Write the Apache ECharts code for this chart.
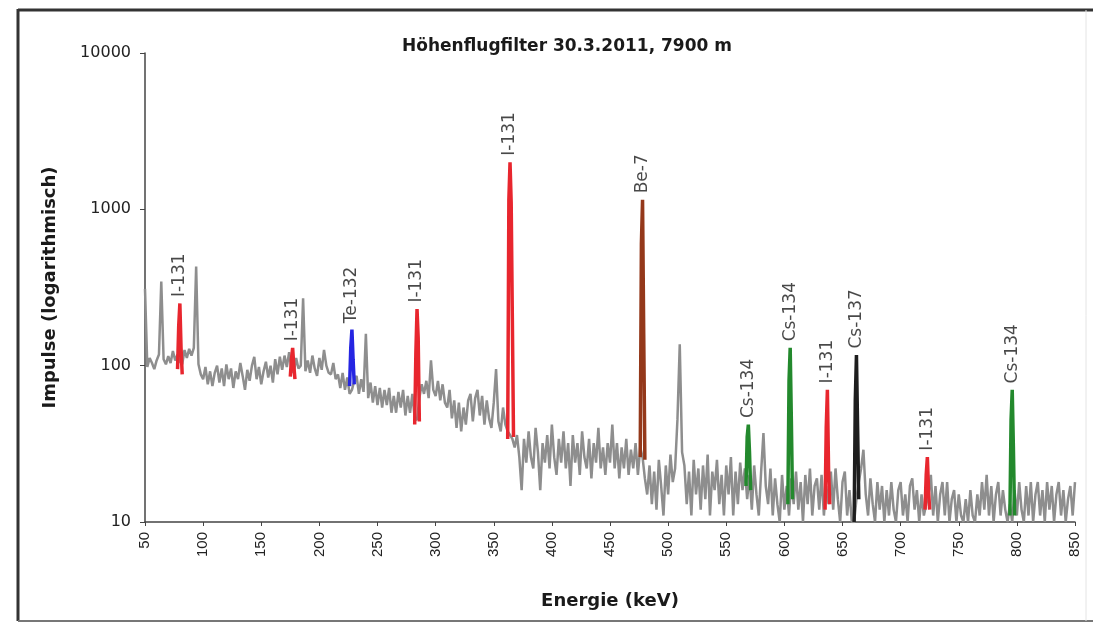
<!DOCTYPE html>
<html lang="de">
  <head>
    <meta charset="UTF-8" />
    <title>Höhenflugfilter 30.3.2011</title>
    <script src="https://cdn.jsdelivr.net/npm/echarts@6.0.0/dist/echarts.min.js"></script>
  </head>
  <body style="margin: 0">
    <div id="chart" style="width: 1093px; height: 623px"></div>
    <script>
      // Untergrund-Spektrum: Zählrate alle 2 keV ab 50 keV
      var energyStart = 50
      var energyStep = 2
      var background = [
        310, 98, 112, 104, 95, 108, 118, 345, 110, 102,
        115, 104, 124, 108, 118, 106, 102, 126, 112, 128,
        116, 130, 430, 102, 88, 82, 98, 76, 92, 74,
        90, 100, 78, 96, 74, 102, 82, 96, 72, 92,
        82, 104, 86, 70, 94, 80, 100, 114, 82, 98,
        76, 92, 106, 84, 100, 78, 110, 88, 114, 94,
        116, 98, 122, 94, 90, 112, 96, 100, 270, 92,
        108, 90, 116, 96, 86, 112, 94, 126, 100, 90,
        88, 104, 82, 88, 72, 90, 70, 84, 66, 70,
        80, 86, 66, 82, 68, 160, 62, 78, 58, 74,
        56, 72, 54, 70, 56, 72, 50, 64, 50, 68,
        54, 70, 48, 64, 50, 66, 46, 45, 62, 76,
        66, 80, 62, 108, 70, 64, 80, 60, 76, 58,
        54, 70, 46, 60, 40, 58, 38, 54, 42, 60,
        66, 44, 62, 70, 48, 64, 42, 60, 46, 40,
        58, 95, 44, 38, 54, 42, 38, 36, 34, 30,
        36, 26, 16, 34, 24, 38, 26, 22, 40, 28,
        16, 32, 24, 36, 22, 42, 26, 20, 34, 24,
        38, 22, 32, 17, 36, 24, 32, 20, 38, 26,
        22, 34, 19, 32, 24, 40, 22, 30, 20, 32,
        24, 42, 22, 32, 19, 30, 22, 34, 20, 29,
        22, 32, 20, 30, 26, 19, 15, 23, 13, 21,
        12, 25, 17, 11, 23, 15, 27, 18, 22, 45,
        137, 28, 23, 13, 21, 11, 25, 15, 22, 12,
        23, 14, 27, 11, 21, 16, 25, 13, 20, 11,
        23, 15, 26, 11, 21, 13, 24, 16, 22, 14,
        20, 12, 23, 15, 11, 21, 37, 17, 13, 22,
        11, 19, 13, 10, 20, 12, 17, 11, 19, 13,
        21, 12, 18, 10, 20, 13, 22, 11, 17, 19,
        12, 20, 11, 17, 13, 21, 12, 22, 14, 10,
        18, 21, 11, 16, 10, 10, 14, 18, 22, 29,
        15, 11, 19, 13, 10, 18, 12, 17, 10, 16,
        11, 18, 12, 10, 16, 18, 11, 15, 10, 17,
        19, 12, 16, 10, 15, 11, 13, 15, 20, 11,
        17, 10, 15, 18, 11, 18, 10, 14, 16, 10,
        15, 11, 10, 14, 10, 16, 11, 10, 15, 11,
        18, 12, 20, 11, 17, 10, 15, 18, 11, 16,
        12, 10, 13, 10, 16, 11, 18, 12, 10, 17,
        11, 18, 10, 15, 18, 11, 16, 10, 18, 12,
        17, 10, 15, 18, 11, 16, 10, 14, 17, 11, 18
      ]

      // Identifizierte Linien: Nuklid und Punkte [Energie keV, Impulse]
      var peakNames = ['I-131', 'I-131', 'Te-132', 'I-131', 'I-131', 'Be-7',
        'Cs-134', 'Cs-134', 'I-131', 'Cs-137', 'I-131', 'Cs-134']
      var peakPoints = [
        [[78, 95], [79, 180], [80, 250], [81, 130], [82, 88]],
        [[175, 85], [176, 110], [177, 130], [178, 100], [179, 82]],
        [[226, 74], [227, 130], [228, 170], [229, 110], [230, 76]],
        [[282, 42], [283, 120], [284, 230], [285, 150], [286, 44]],
        [[362, 34], [363, 1150], [364, 2000], [365, 1100], [366, 200], [367, 35]],
        [[476, 26], [477, 600], [478, 1150], [479, 160], [480, 25]],
        [[567, 17], [568, 35], [569, 42], [570, 28], [571, 16]],
        [[603, 13], [604, 80], [605, 130], [606, 45], [607, 14]],
        [[635, 12], [636, 40], [637, 70], [638, 22], [639, 13]],
        [[660, 10], [661, 60], [662, 117], [663, 40], [664, 14]],
        [[721, 12], [722, 20], [723, 26], [724, 16], [725, 12]],
        [[794, 11], [795, 45], [796, 70], [797, 30], [798, 11]]
      ]

      var nuclideColor = {
        'I-131': '#e8262e',
        'Te-132': '#2525e2',
        'Be-7': '#94381a',
        'Cs-134': '#23892d',
        'Cs-137': '#1e1e1e'
      }

      var font = 'DejaVu Sans'

      var bgData = background.map(function (v, i) {
        return [energyStart + i * energyStep, v]
      })

      var series = [
        {
          name: 'Spektrum',
          type: 'line',
          data: bgData,
          symbol: 'none',
          lineStyle: { color: '#8e8e8e', width: 2.5 },
          z: 1
        }
      ]

      var labelData = []
      peakPoints.forEach(function (pts, i) {
        series.push({
          type: 'line',
          data: pts,
          symbol: 'none',
          lineStyle: { color: nuclideColor[peakNames[i]], width: 3.5 },
          z: 2
        })
        // Beschriftung über dem höchsten Punkt
        var top = pts.reduce(function (a, b) { return b[1] > a[1] ? b : a })
        labelData.push([top[0], top[1], peakNames[i]])
      })

      series.push({
        type: 'scatter',
        data: labelData,
        symbolSize: 1,
        itemStyle: { color: 'rgba(0,0,0,0)' },
        label: {
          show: true,
          position: 'top',
          distance: 6,
          rotate: 90,
          align: 'left',
          verticalAlign: 'middle',
          fontFamily: font,
          fontSize: 17,
          color: '#1a1a1a',
          formatter: function (p) { return p.value[2] }
        },
        z: 3
      })

      var chart = echarts.init(document.getElementById('chart'))
      chart.setOption({
        animation: false,
        backgroundColor: '#fff',
        title: {
          text: 'Höhenflugfilter 30.3.2011, 7900 m',
          left: 562,
          top: 33,
          textAlign: 'center',
          textStyle: { fontFamily: font, fontSize: 17, fontWeight: 'bold', color: '#1a1a1a' }
        },
        grid: { left: 145, right: 18, top: 53, bottom: 101 },
        xAxis: {
          type: 'value',
          min: 50,
          max: 850,
          interval: 50,
          name: 'Energie (keV)',
          nameLocation: 'middle',
          nameGap: 70,
          nameTextStyle: { fontFamily: font, fontSize: 18, fontWeight: 'bold', color: '#1a1a1a' },
          axisLabel: { rotate: 90, fontSize: 15, color: '#222', margin: 10 },
          axisLine: { lineStyle: { color: '#444', width: 1.5 } },
          axisTick: { length: 4, lineStyle: { color: '#444' } },
          splitLine: { show: false }
        },
        yAxis: {
          type: 'log',
          logBase: 10,
          min: 10,
          max: 10000,
          name: 'Impulse (logarithmisch)',
          nameLocation: 'middle',
          nameGap: 86,
          nameTextStyle: { fontFamily: font, fontSize: 18, fontWeight: 'bold', color: '#1a1a1a' },
          axisLine: { show: true, lineStyle: { color: '#444', width: 1.5 } },
          axisTick: { show: true, length: 5, lineStyle: { color: '#444' } },
          axisLabel: {
            fontFamily: font,
            fontSize: 16,
            color: '#222',
            margin: 14,
            formatter: function (v) { return String(Math.round(v)) }
          },
          splitLine: { show: false }
        },
        graphic: [
          { type: 'line', shape: { x1: 18, y1: 10, x2: 1093, y2: 10 }, style: { stroke: '#333', lineWidth: 3 } },
          { type: 'line', shape: { x1: 18, y1: 9, x2: 18, y2: 621 }, style: { stroke: '#333', lineWidth: 3 } },
          { type: 'line', shape: { x1: 18, y1: 621, x2: 1093, y2: 621 }, style: { stroke: '#777', lineWidth: 2 } },
          { type: 'line', shape: { x1: 1086, y1: 10, x2: 1086, y2: 621 }, style: { stroke: '#e4e4e4', lineWidth: 1 } }
        ],
        series: series
      })
    </script>
  </body>
</html>
